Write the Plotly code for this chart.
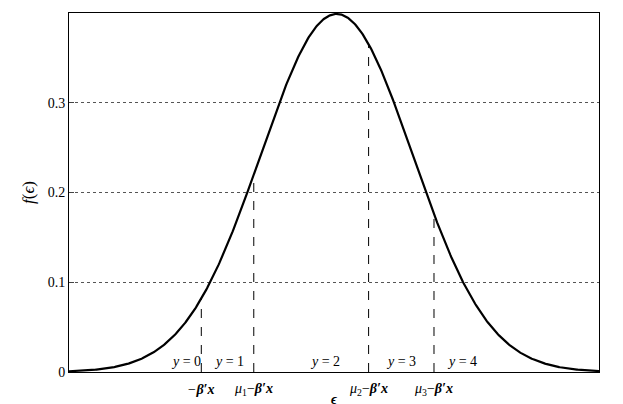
import numpy as np
import plotly.graph_objects as go

# thresholds (mu_j - beta'x) in epsilon units
thresholds = [-1.78, -1.09, 0.42, 1.28]
threshold_labels = ["<i>−<b>β′x</b></i>", "<i>μ</i><sub>1</sub>−<i><b>β′x</b></i>",
                    "<i>μ</i><sub>2</sub>−<i><b>β′x</b></i>", "<i>μ</i><sub>3</sub>−<i><b>β′x</b></i>"]
region_labels = ["<i>y</i> = 0", "<i>y</i> = 1", "<i>y</i> = 2", "<i>y</i> = 3", "<i>y</i> = 4"]
region_pos = [-1.98, -1.42, -0.15, 0.85, 1.65]
y_ticks = [0, 0.1, 0.2, 0.3, 0.4]

def pdf(z):
    return np.exp(-0.5 * np.asarray(z) ** 2) / np.sqrt(2 * np.pi)

xs = np.linspace(-3.52, 3.45, 600)
fig = go.Figure()
fig.add_trace(go.Scatter(x=xs, y=pdf(xs), mode="lines", line=dict(color="black", width=2.2), hoverinfo="skip"))
for t in thresholds:
    fig.add_trace(go.Scatter(x=[t, t], y=[0, float(pdf(t))], mode="lines",
                             line=dict(color="black", width=1, dash="dash"), hoverinfo="skip"))

ann = []
for t, l in zip(thresholds, threshold_labels):
    ann.append(dict(x=t, y=0, yref="y", text=l, showarrow=False, yshift=-17, font=dict(size=14)))
for p, l in zip(region_pos, region_labels):
    ann.append(dict(x=p, y=0, text=l, showarrow=False, yshift=11, font=dict(size=14)))

fig.update_layout(
    width=623, height=404, margin=dict(l=61, r=32, t=5, b=40, autoexpand=False),
    paper_bgcolor="white", plot_bgcolor="white", showlegend=False,
    font=dict(family="Liberation Serif, Times New Roman, serif", color="black", size=14),
    xaxis=dict(range=[-3.52, 3.45], showticklabels=False, ticks="", showgrid=False,
               showline=True, mirror=True, linecolor="black", linewidth=1, zeroline=False,
               title=dict(text="<i><b>ϵ</b></i>", standoff=22, font=dict(size=14))),
    yaxis=dict(range=[0, 0.4], tickvals=y_ticks, ticktext=["0", "0.1", "0.2", "0.3", "0.4"],
               ticks="inside", ticklen=5, showgrid=True, gridcolor="#555", griddash="dot", gridwidth=1,
               showline=True, mirror=True, linecolor="black", linewidth=1, zeroline=False,
               title=dict(text="<i>f</i>(<i>ϵ</i>)", standoff=8)),
    annotations=ann,
)
fig.write_html("out.html")
